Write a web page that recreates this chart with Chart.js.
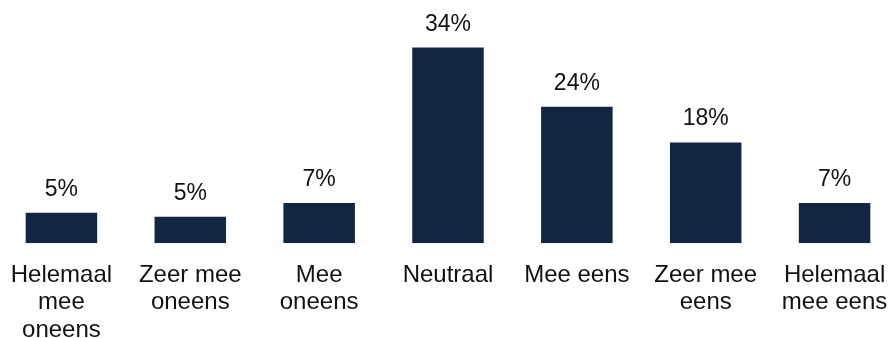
<!DOCTYPE html>
<html>
<head>
<meta charset="utf-8">
<script src="https://cdn.jsdelivr.net/npm/chart.js@4/dist/chart.umd.min.js"></script>
<style>
  html, body { margin: 0; padding: 0; background: #fff; }
  #frame { position: relative; width: 890px; height: 338px; overflow: hidden; }
  #wrap { position: absolute; left: -3px; top: 0; width: 902px; height: 348px; }
</style>
</head>
<body>
<div id="frame"><div id="wrap"><canvas id="answers" width="902" height="348"></canvas></div></div>
<script>
const categories = [
  ["Helemaal", "mee", "oneens"],
  ["Zeer mee", "oneens"],
  ["Mee", "oneens"],
  "Neutraal",
  "Mee eens",
  ["Zeer mee", "eens"],
  ["Helemaal", "mee eens"]
];
const shares = [5.3, 4.6, 7.0, 34.0, 23.7, 17.5, 7.0];

const FONT = "'Liberation Sans', Arial, sans-serif";

// percentage above each bar
const barLabels = {
  id: "barLabels",
  afterDatasetsDraw(chart) {
    const ctx = chart.ctx;
    const meta = chart.getDatasetMeta(0);
    ctx.save();
    ctx.font = "23px " + FONT;
    ctx.fillStyle = "#111";
    ctx.textAlign = "center";
    ctx.textBaseline = "alphabetic";
    meta.data.forEach((bar, i) => {
      ctx.fillText(Math.round(shares[i]) + "%", bar.x, bar.y - 17);
    });
    ctx.restore();
  }
};

new Chart(document.getElementById("answers"), {
  type: "bar",
  data: {
    labels: categories,
    datasets: [{
      data: shares,
      backgroundColor: "#13263f",
      borderWidth: 0,
      categoryPercentage: 1,
      barPercentage: 0.555
    }]
  },
  options: {
    responsive: false,
    animation: false,
    layout: { padding: { top: 13, left: 0, right: 0, bottom: 0 } },
    plugins: { legend: { display: false }, tooltip: { enabled: false } },
    scales: {
      x: {
        // invisible tick marks just to push the labels down
        grid: {
          display: true,
          drawOnChartArea: false,
          drawTicks: true,
          tickLength: 14,
          color: "rgba(0,0,0,0)"
        },
        border: { display: false },
        ticks: {
          color: "#111",
          padding: 4,
          maxRotation: 0,
          autoSkip: false,
          font: { family: FONT, size: 24, lineHeight: 1.15 }
        }
      },
      y: {
        display: false,
        min: 0,
        max: 40
      }
    }
  },
  plugins: [barLabels]
});
</script>
</body>
</html>
